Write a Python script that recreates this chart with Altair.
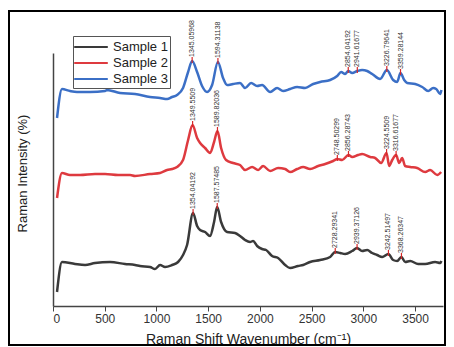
import altair as alt
import pandas as pd

# ---------------- data ----------------
samples = ["Sample 1", "Sample 2", "Sample 3"]
colors = ["#3a3a3a", "#de3a3f", "#3b6fc6"]

wn1 = [39, 87, 213, 310, 406, 551, 696, 793, 841, 938, 986, 1035, 1083, 1151, 1209, 1257, 1296, 1354,
       1393, 1422, 1470, 1518, 1557, 1587, 1625, 1683, 1760, 1808, 1857, 1905, 1934, 1973, 2021, 2060,
       2118, 2176, 2244, 2292, 2369, 2418, 2485, 2582, 2679, 2728, 2776, 2824, 2892, 2939, 2988, 3037,
       3085, 3133, 3182, 3242, 3288, 3327, 3368, 3404, 3453, 3530, 3598, 3694, 3743, 3755]
int1 = [14, 44, 42, 41, 43, 44, 42, 41, 40, 39, 37, 41, 39, 41, 44, 51, 61, 93,
        80, 76, 74, 70, 84, 99, 84, 74, 73, 70, 66, 64, 65, 60, 57, 56,
        50, 48, 41, 38, 40, 41, 44, 46, 49, 54, 53, 52, 55, 58, 55, 56,
        53, 51, 49, 52, 46, 45, 49, 44, 45, 42, 42, 44, 43, 45]

wn2 = [39, 87, 164, 261, 406, 503, 629, 745, 793, 938, 1035, 1103, 1151, 1199, 1257, 1306, 1349,
       1393, 1422, 1470, 1518, 1557, 1590, 1625, 1673, 1741, 1808, 1857, 1925, 1983, 2031, 2099,
       2176, 2244, 2292, 2360, 2418, 2485, 2563, 2631, 2708, 2749, 2795, 2856, 2892, 2950, 2988,
       3066, 3114, 3172, 3224, 3250, 3279, 3317, 3346, 3375, 3404, 3453, 3520, 3598, 3646, 3714, 3752]
int2 = [108, 133, 131, 131, 132, 132, 131, 131, 130, 132, 133, 136, 137, 139, 146, 166, 181,
        168, 163, 158, 153, 164, 175, 158, 146, 143, 141, 136, 139, 136, 140, 135,
        138, 137, 134, 137, 139, 137, 140, 142, 145, 147, 146, 151, 149, 151, 152,
        149, 148, 143, 153, 140, 146, 151, 143, 148, 140, 139, 138, 134, 136, 131, 134]

wn3 = [39, 87, 164, 232, 358, 503, 522, 648, 793, 938, 1035, 1103, 1151, 1199, 1257, 1306, 1345,
       1393, 1441, 1490, 1538, 1594, 1644, 1683, 1741, 1808, 1857, 1915, 1973, 2021, 2099, 2166,
       2224, 2292, 2360, 2437, 2515, 2582, 2679, 2747, 2785, 2824, 2854, 2892, 2942, 2988, 3037,
       3085, 3162, 3227, 3288, 3327, 3359, 3395, 3424, 3501, 3569, 3627, 3675, 3704, 3743, 3755]
int3 = [188, 217, 215, 214, 214, 215, 216, 213, 212, 209, 208, 207, 209, 211, 218, 234, 245,
        234, 220, 214, 221, 244, 228, 221, 222, 223, 218, 223, 220, 221, 214, 218,
        215, 217, 219, 218, 222, 224, 226, 230, 234, 232, 235, 233, 235, 236, 235,
        232, 227, 236, 226, 224, 233, 226, 223, 222, 219, 215, 218, 217, 212, 216]

peak_wn1 = [1354.04192, 1587.57485, 2728.29341, 2939.37126, 3242.51497, 3368.26347]
peak_in1 = [93, 99, 54, 58, 52, 49]
peak_wn2 = [1349.5509, 1589.82036, 2748.50299, 2856.28743, 3224.5509, 3316.61677]
peak_in2 = [181, 175, 147, 151, 153, 151]
peak_wn3 = [1345.05968, 1594.31138, 2854.04192, 2941.61677, 3226.79641, 3359.28144]
peak_in3 = [245, 244, 235, 235, 236, 233]
peak_lbl1 = ["1354.04192", "1587.57485", "2728.29341", "2939.37126", "3242.51497", "3368.26347"]
peak_lbl2 = ["1349.5509", "1589.82036", "2748.50299", "2856.28743", "3224.5509", "3316.61677"]
peak_lbl3 = ["1345.05968", "1594.31138", "2854.04192", "2941.61677", "3226.79641", "3359.28144"]

x_ticks = [0, 500, 1000, 1500, 2000, 2500, 3000, 3500]

# ---------------- tables ----------------
rows = []
for s, wn, it in zip(samples, [wn1, wn2, wn3], [int1, int2, int3]):
    for w, v in zip(wn, it):
        rows.append({"sample": s, "wn": w, "intensity": v})
spec_df = pd.DataFrame(rows)

prow = []
for s, wn, it, lb in zip(samples, [peak_wn1, peak_wn2, peak_wn3], [peak_in1, peak_in2, peak_in3],
                         [peak_lbl1, peak_lbl2, peak_lbl3]):
    for w, v, l in zip(wn, it, lb):
        prow.append({"sample": s, "wn": w, "intensity": v, "label": l})
peak_df = pd.DataFrame(prow)

W, H = 390, 253
xscale = alt.Scale(domain=[0, 3770], nice=False, zero=False)
yscale = alt.Scale(domain=[0, 253], nice=False, zero=False)

lines = alt.Chart(spec_df).mark_line(strokeWidth=2.5, interpolate="monotone").encode(
    x=alt.X("wn:Q", scale=xscale,
            axis=alt.Axis(values=x_ticks, format="d", title="Raman Shift Wavenumber (cm\u207b\u00b9)",
                          grid=False, labelFontSize=12, titleFontSize=14, titleFontWeight="normal",
                          labelColor="#333", titleColor="#222", domainColor="#444", tickColor="#444",
                          domainWidth=1.5, tickSize=5, labelPadding=2, titlePadding=8,
                          labelFont="Liberation Sans", titleFont="Liberation Sans")),
    y=alt.Y("intensity:Q", scale=yscale,
            axis=alt.Axis(title="Raman Intensity (%)", labels=False, ticks=False, grid=False,
                          domainColor="#444", domainWidth=1.5, titleFontSize=13,
                          titleFontWeight="normal", titleColor="#222", titleFont="Liberation Sans",
                          titleX=-24, titleY=120)),
    color=alt.Color("sample:N", scale=alt.Scale(domain=samples, range=colors),
                    legend=alt.Legend(title=None, orient="none", legendX=20, legendY=-17,
                                      symbolType="M-2.1,0H2.1", symbolSize=256, symbolStrokeWidth=2,
                                      symbolOffset=7, labelOffset=13,
                                      labelFontSize=13, labelFont="Liberation Sans", labelColor="#222",
                                      strokeColor="#555", fillColor="white", padding=2,
                                      rowPadding=0, columnPadding=0)),
    detail="sample:N",
)

ticks = alt.Chart(peak_df).transform_calculate(
    y1="datum.intensity - 2", y2="datum.intensity + 4"
).mark_rule(color="#d62728", strokeWidth=1.2).encode(
    x=alt.X("wn:Q", scale=xscale),
    y=alt.Y("y1:Q", scale=yscale),
    y2="y2:Q",
)

labels = alt.Chart(peak_df).transform_calculate(
    ly="datum.intensity + 4"
).mark_text(angle=270, align="left", baseline="middle", fontSize=7, color="#333",
            font="Liberation Sans").encode(
    x=alt.X("wn:Q", scale=xscale),
    y=alt.Y("ly:Q", scale=yscale),
    text="label:N",
)

frame = alt.Chart(alt.Data(values=[{"a": 1}])).mark_rect(
    fillOpacity=0, stroke="black", strokeWidth=2
).encode(
    x=alt.value(-44), x2=alt.value(392), y=alt.value(-42), y2=alt.value(292)
)

chart = alt.layer(frame, lines, ticks, labels).properties(
    width=W, height=H,
    autosize=alt.AutoSizeParams(type="none"),
    padding={"left": 45, "top": 45, "right": 3, "bottom": 40},
).configure_view(stroke=None)

chart.save("out.html", embed_options={"renderer": "svg", "actions": False})
